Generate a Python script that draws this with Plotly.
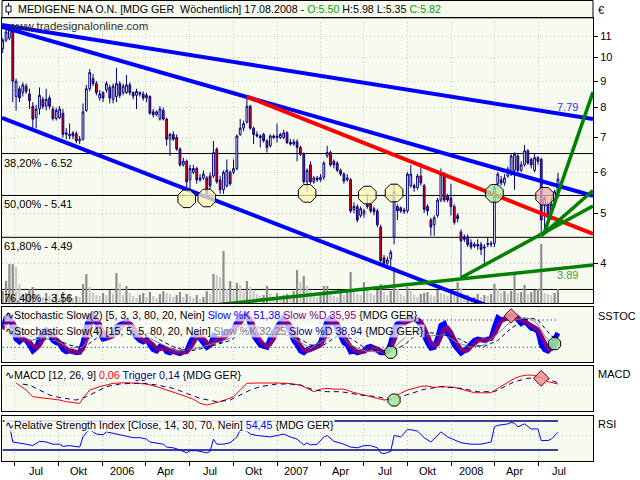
import math
from datetime import date, timedelta
import plotly.graph_objects as go

W, H = 640, 480
FONT = "Liberation Sans"
PANEL_BG = "#f7faef"
GRID = "#c4c4c4"
NAVY = "#000080"

# ---------------- weekly price data (MEDIGENE, MDG GER) ----------------
first_week = date(2005, 6, 6)
bar_count = 167
bar_dates = [(first_week + timedelta(days=7 * i)).isoformat() for i in range(bar_count)]

opens = [10.4, 10.8, 10.9, 11.4, 8.4, 8.7, 8.55, 8.8, 8.5, 8.05,
         7.65, 7.95, 8.3, 8.05, 8.35, 7.95, 7.62, 7.65, 7.8, 7.1,
         7.05, 7.15, 7.12, 6.9, 6.95, 7.9, 8.7, 9.1, 8.9, 8.35,
         8.55, 8.65, 8.75, 8.3, 8.4, 8.9, 8.55, 8.55, 8.85, 8.55,
         8.45, 8.55, 8.5, 8.35, 8.4, 7.85, 7.75, 7.6, 7.9, 7.6,
         6.95, 7.1, 7.0, 6.65, 6.2, 6.3, 5.8, 6.0, 6.1, 5.8,
         5.85, 5.85, 5.9, 5.9, 6.65, 5.8, 5.55, 5.65, 6.0, 6.0,
         6.1, 7.1, 7.3, 7.5, 8.05, 7.3, 7.1, 7.0, 7.1, 6.9,
         6.75, 7.0, 7.05, 7.0, 7.0, 7.15, 6.85, 6.8, 6.87, 6.7,
         6.5, 5.75, 6.2, 5.75, 5.85, 5.8, 5.87, 6.45, 6.55, 6.3,
         6.25, 6.05, 5.95, 5.8, 5.8, 5.08, 5.15, 4.95, 4.98, 5.2,
         5.2, 5.1, 5.05, 4.7, 4.1, 4.0, 4.08, 4.5, 5.15, 5.12,
         5.03, 5.05, 5.65, 5.65, 5.6, 5.9, 5.65, 5.15, 4.85, 4.75,
         4.95, 5.3, 5.9, 5.4, 5.35, 5.15, 4.95, 4.6, 4.5, 4.5,
         4.38, 4.32, 4.35, 4.35, 4.28, 4.35, 4.35, 4.37, 5.7, 5.8,
         5.72, 5.9, 5.95, 6.05, 6.45, 6.05, 6.2, 6.6, 6.35, 6.05,
         6.4, 6.35, 5.2, 5.2, 5.0, 5.2, 5.50]
highs = [10.9, 11.5, 11.6, 11.6, 9.1, 8.8, 8.95, 8.9, 8.7, 8.2,
         8.1, 8.75, 8.4, 8.7, 8.45, 8.05, 8.0, 8.05, 7.95, 7.3,
         7.45, 7.2, 7.2, 7.05, 8.15, 8.85, 9.5, 9.3, 9.0, 8.65,
         8.6, 9.0, 8.85, 8.9, 9.55, 9.0, 8.9, 9.25, 8.95, 8.6,
         8.7, 8.6, 8.6, 8.55, 8.45, 7.95, 7.9, 8.05, 8.0, 7.65,
         7.15, 7.2, 7.1, 6.7, 6.4, 6.35, 6.2, 6.2, 6.15, 5.95,
         6.05, 5.9, 6.0, 6.9, 6.7, 5.9, 6.05, 6.35, 6.05, 6.35,
         7.1, 7.6, 7.55, 8.4, 8.1, 7.35, 7.2, 7.1, 7.15, 6.95,
         7.1, 7.1, 7.45, 7.15, 7.25, 7.2, 6.95, 6.95, 6.95, 6.75,
         6.55, 6.1, 6.3, 5.9, 5.9, 5.95, 6.3, 6.75, 6.6, 6.35,
         6.3, 6.1, 6.0, 5.95, 5.85, 5.25, 5.2, 5.15, 5.1, 5.45,
         5.25, 5.15, 5.1, 4.75, 4.15, 4.12, 4.25, 5.7, 5.2, 5.15,
         5.12, 6.0, 6.2, 5.7, 5.95, 6.25, 5.7, 5.2, 4.9, 4.95,
         5.35, 6.1, 6.0, 5.45, 5.7, 5.2, 5.0, 4.65, 4.55, 4.55,
         4.45, 4.4, 4.45, 4.4, 4.35, 4.5, 4.42, 5.65, 6.0, 5.9,
         5.95, 6.15, 6.5, 6.55, 6.5, 6.3, 6.77, 6.65, 6.4, 6.5,
         6.45, 6.4, 5.4, 5.25, 5.35, 5.55, 5.98]
lows = [10.2, 10.7, 10.8, 8.2, 7.9, 8.2, 8.4, 8.5, 7.95, 7.25,
        7.3, 7.75, 7.95, 7.9, 7.95, 7.55, 7.55, 7.6, 7.0, 6.95,
        6.95, 6.95, 6.82, 6.8, 6.9, 7.85, 8.6, 8.8, 8.45, 8.25,
        8.2, 8.55, 8.15, 8.15, 8.2, 8.35, 8.45, 8.5, 8.45, 8.3,
        7.95, 8.4, 8.25, 8.2, 7.75, 7.65, 7.7, 7.55, 7.55, 6.75,
        6.45, 6.9, 6.6, 6.15, 6.15, 5.6, 5.55, 5.95, 5.7, 5.75,
        5.8, 5.35, 5.55, 5.85, 5.7, 5.45, 5.45, 5.6, 5.65, 5.95,
        6.05, 7.05, 7.2, 7.45, 7.25, 6.8, 7.0, 6.7, 6.85, 6.55,
        6.7, 6.95, 6.85, 6.95, 6.95, 6.8, 6.75, 6.75, 6.3, 6.45,
        5.7, 5.5, 5.7, 5.7, 5.75, 5.75, 5.8, 6.4, 6.15, 6.1,
        6.0, 5.9, 5.7, 5.75, 5.0, 5.0, 4.8, 4.9, 4.9, 5.1,
        5.0, 4.95, 4.7, 4.0, 3.95, 3.95, 3.92, 4.35, 4.85, 5.0,
        4.98, 5.0, 5.6, 5.5, 5.55, 5.65, 5.0, 4.95, 4.52, 4.52,
        4.9, 5.25, 5.25, 5.25, 4.95, 4.75, 4.8, 3.75, 4.4, 4.3,
        4.25, 4.28, 4.25, 4.15, 3.97, 4.3, 4.3, 4.3, 5.6, 5.65,
        5.65, 5.85, 5.9, 5.55, 6.0, 6.0, 6.15, 6.2, 6.1, 6.0,
        6.2, 4.52, 4.6, 4.95, 4.85, 5.15, 5.35]
closes = [10.8, 11.2, 11.4, 9.0, 9.0, 8.35, 8.85, 8.6, 8.25, 7.6,
          7.95, 8.45, 8.05, 8.3, 8.05, 7.62, 7.9, 7.95, 7.1, 7.15,
          7.1, 7.05, 6.9, 6.95, 7.85, 8.7, 9.35, 8.9, 8.55, 8.5,
          8.35, 8.9, 8.35, 8.8, 8.9, 8.45, 8.8, 8.85, 8.55, 8.42,
          8.6, 8.5, 8.35, 8.45, 7.8, 7.75, 7.85, 7.95, 7.6, 6.95,
          7.1, 6.95, 6.65, 6.2, 6.3, 5.75, 6.1, 6.1, 5.8, 5.85,
          5.95, 5.45, 5.65, 6.55, 5.75, 5.55, 6.0, 6.05, 5.7, 6.1,
          7.05, 7.3, 7.45, 8.05, 7.3, 7.1, 7.05, 7.05, 6.9, 6.7,
          7.05, 7.05, 7.0, 7.1, 7.15, 6.85, 6.8, 6.87, 6.7, 6.5,
          5.75, 6.05, 5.75, 5.85, 5.8, 5.87, 6.25, 6.55, 6.2, 6.2,
          6.05, 5.95, 5.77, 5.85, 5.05, 5.15, 4.85, 5.1, 5.05, 5.15,
          5.05, 5.03, 4.75, 4.05, 4.0, 4.06, 4.2, 5.5, 5.05, 5.05,
          5.07, 5.95, 5.95, 5.6, 5.9, 5.72, 5.08, 5.05, 4.7, 4.9,
          5.3, 5.95, 5.3, 5.3, 5.15, 4.8, 4.88, 4.42, 4.45, 4.35,
          4.3, 4.35, 4.32, 4.25, 4.3, 4.37, 4.37, 5.6, 5.95, 5.72,
          5.85, 6.08, 6.45, 6.5, 6.05, 6.2, 6.6, 6.25, 6.2, 6.4,
          6.3, 4.85, 5.35, 5.0, 5.2, 5.5, 5.82]
volume = [12, 22, 39, 39, 36, 19, 8, 10, 14, 16,
          9, 8, 6, 10, 7, 6, 9, 5, 11, 6,
          8, 5, 7, 6, 19, 29, 16, 10, 8, 7,
          10, 8, 13, 9, 30, 20, 8, 17, 10, 7,
          5, 8, 10, 6, 11, 7, 5, 9, 12, 10,
          9, 6, 8, 11, 6, 9, 7, 5, 8, 4,
          6, 12, 9, 29, 28, 26, 52, 14, 22, 12,
          20, 18, 12, 22, 16, 13, 9, 7, 8, 17,
          9, 6, 10, 7, 8, 9, 6, 12, 33, 21,
          27, 17, 12, 8, 6, 10, 17, 17, 9, 7,
          6, 10, 8, 14, 31, 12, 9, 8, 21, 14,
          10, 8, 13, 19, 11, 8, 12, 36, 14, 9,
          7, 16, 12, 8, 6, 9, 10, 11, 8, 7,
          13, 10, 9, 7, 9, 8, 21, 15, 7, 8,
          5, 6, 9, 6, 8, 7, 9, 19, 14, 10,
          12, 9, 12, 28, 10, 11, 18, 9, 11, 13,
          14, 59, 10, 9, 8, 10, 14]

# Fibonacci retracement levels
fib_levels = [11.93, 6.52, 5.41, 4.49, 3.56]
fib_labels = ["0,00% - 11.93", "38,20% - 6.52", "50,00% - 5.41", "61,80% - 4.49", "76,40% - 3.56"]

# trend lines (start date, start price, end date, end price, colour, width)
trend_x0 = ["2005-06-04 12:00", "2005-06-04 12:00", "2005-06-04 12:00", "2006-10-30",
            "2006-07-25", "2008-01-21", "2008-07-07", "2008-07-14"]
trend_y0 = [11.55, 11.45, 7.64, 8.40, 3.30, 3.75, 4.52, 4.60]
trend_x1 = ["2008-10-23 07:00"] * 8
trend_y1 = [7.60, 5.40, 2.76, 4.56, 3.97, 5.16, 5.53, 8.57]
trend_colors = ["#0000ff", "#0000ff", "#0000ff", "#ff0000", "#008000", "#008000", "#008000", "#008000"]
trend_widths = [4, 4, 4, 4, 3.5, 3.5, 3.5, 3.5]

# signal circles on the price chart
circle_bars = [55, 61, 91, 109, 117, 147, 162]
circle_prices = [5.33, 5.35, 5.46, 5.42, 5.47, 5.46, 5.39]
circle_fills = ["rgba(250,246,180,0.75)"] * 5 + ["rgba(170,235,165,0.75)", "rgba(240,175,175,0.75)"]

# Stochastic Slow(2) [5,3,3] – %K and %D per week
stoch_k = [60, 85, 92, 55, 38, 32, 40, 35, 25, 12,
           18, 40, 52, 58, 50, 35, 30, 28, 15, 10,
           12, 10, 8, 9, 30, 65, 88, 90, 75, 50,
           38, 40, 45, 48, 65, 70, 72, 78, 70, 50,
           42, 35, 32, 38, 25, 15, 12, 22, 20, 10,
           8, 12, 8, 6, 10, 12, 30, 45, 48, 40,
           32, 20, 25, 45, 40, 35, 45, 55, 55, 60,
           75, 85, 90, 92, 70, 45, 35, 25, 22, 20,
           40, 55, 65, 75, 85, 70, 50, 35, 25, 12,
           8, 15, 18, 20, 22, 30, 55, 80, 85, 75,
           60, 45, 30, 25, 10, 12, 8, 10, 12, 20,
           22, 18, 12, 8, 8, 10, 30, 62, 72, 75,
           72, 80, 85, 82, 78, 70, 45, 30, 18, 20,
           40, 68, 72, 50, 40, 25, 15, 7, 12, 20,
           30, 35, 38, 36, 35, 38, 40, 65, 85, 80,
           82, 88, 90, 88, 80, 72, 78, 70, 62, 60,
           55, 25, 15, 12, 20, 38, 51.38]
stoch_d = [60, 72, 79, 77, 62, 42, 37, 36, 33, 24,
           18, 23, 37, 50, 53, 48, 38, 31, 24, 18,
           12, 11, 10, 9, 16, 35, 61, 81, 84, 72,
           54, 43, 41, 44, 53, 61, 69, 73, 73, 66,
           54, 42, 36, 35, 32, 26, 17, 16, 18, 17,
           13, 10, 9, 9, 8, 9, 17, 29, 41, 44,
           40, 31, 26, 30, 37, 40, 40, 45, 52, 57,
           63, 73, 83, 89, 84, 69, 50, 35, 27, 22,
           27, 38, 53, 65, 75, 77, 68, 52, 37, 24,
           15, 12, 14, 18, 20, 24, 36, 55, 73, 80,
           73, 60, 45, 33, 22, 16, 10, 10, 10, 14,
           18, 20, 17, 13, 9, 9, 16, 34, 55, 70,
           73, 76, 79, 82, 82, 77, 64, 48, 31, 23,
           26, 43, 60, 63, 54, 38, 27, 16, 11, 13,
           21, 28, 34, 36, 36, 36, 38, 48, 63, 77,
           82, 83, 87, 89, 86, 80, 77, 73, 70, 64,
           59, 47, 32, 17, 16, 23, 35.95]

# Stochastic Slow(4) [15,5,5]
s4_bars = [0, 4, 8, 12, 16, 20, 24, 28, 32, 36, 40, 44, 48, 52, 56, 60, 64, 68, 72, 76,
           80, 84, 88, 92, 96, 100, 104, 108, 112, 116, 120, 124, 128, 132, 136, 140, 144, 148, 152, 156,
           158, 160, 162, 164, 166]
s4_k = [70, 55, 35, 40, 35, 18, 20, 60, 55, 65, 58, 40, 25, 12, 14, 22, 30, 40, 70, 62,
        45, 50, 35, 18, 35, 55, 25, 12, 10, 12, 40, 60, 45, 48, 30, 20, 25, 50, 78, 85,
        82, 70, 45, 30, 32.25]
s4_d = [65, 62, 45, 38, 37, 25, 18, 40, 55, 60, 60, 50, 32, 18, 12, 18, 26, 35, 55, 66,
        55, 48, 42, 25, 25, 45, 40, 20, 12, 10, 25, 50, 52, 47, 40, 25, 22, 35, 62, 80,
        84, 80, 62, 45, 38.94]
stoch_levels = [80, 20]
stoch_buy_bars, stoch_buy_vals = [116, 165], [9, 28]
stoch_sell_bars, stoch_sell_vals = [152], [89]

# MACD [12, 26, 9]
macd_bars = [4, 7, 9, 11, 14, 17, 19, 21, 23, 24, 26, 29, 33, 37, 40, 43, 46, 49, 51, 53,
             55, 57, 59, 61, 63, 65, 67, 69, 71, 73, 76, 79, 82, 85, 89, 91, 93, 95, 97, 99,
             102, 105, 107, 109, 112, 114, 116, 117, 119, 121, 123, 125, 127, 129, 131, 133, 135, 137, 139, 141,
             144, 146, 148, 150, 151, 153, 155, 157, 159, 161, 163, 165, 166]
macd_vals = [0.12, -0.3, -0.7, -0.75, -0.8, -0.9, -1.0, -1.05, -1.1, -0.8, -0.3, -0.1, 0.1, 0.14, 0.12, 0.06, -0.1, -0.3, -0.4, -0.55,
             -0.7, -0.85, -1.1, -1.2, -1.1, -1.0, -0.85, -0.7, -0.3, 0.1, 0.12, 0.14, 0.12, 0.1, 0.0, -0.2, -0.4, -0.25, -0.2, -0.25,
             -0.25, -0.45, -0.55, -0.65, -0.8, -0.9, -0.85, -0.7, -0.5, -0.3, -0.2, -0.08, -0.06, -0.15, -0.1, -0.12, -0.14, -0.25, -0.35, -0.46,
             -0.47, -0.46, -0.2, 0.05, 0.2, 0.4, 0.54, 0.6, 0.58, 0.46, 0.2, 0.1, 0.06]
trig_bars = [6, 8, 11, 14, 17, 20, 22, 25, 28, 31, 35, 41, 46, 51, 55, 59, 64, 68, 71, 74,
             77, 82, 86, 89, 93, 97, 101, 107, 112, 116, 119, 122, 126, 131, 137, 142, 147, 150, 153, 157,
             161, 164, 166]
trig_vals = [0.05, 0.0, -0.3, -0.6, -0.75, -0.85, -0.9, -0.7, -0.4, -0.1, 0.06, 0.12, 0.0, -0.2, -0.5, -0.8, -1.0, -0.9, -0.6, -0.3,
             -0.1, 0.06, 0.06, 0.0, -0.3, -0.4, -0.4, -0.6, -0.7, -0.9, -0.7, -0.5, -0.26, -0.1, -0.2, -0.4, -0.4, -0.1, 0.2, 0.4,
             0.46, 0.26, 0.14]
macd_buy_bars, macd_buy_vals = [117], [-0.9]
macd_sell_bars, macd_sell_vals = [161], [0.4]

# RSI [Close, 14, 30, 70]
rsi_bars = [1, 2, 3, 5, 7, 9, 11, 13, 15, 17, 18, 20, 22, 23, 24, 25, 26, 28, 30, 31,
            33, 35, 37, 39, 41, 43, 44, 46, 48, 49, 51, 53, 55, 56, 58, 61, 62, 63, 64, 66,
            68, 70, 71, 73, 74, 76, 78, 80, 82, 84, 86, 88, 90, 91, 92, 94, 96, 97, 99, 101,
            102, 104, 106, 108, 110, 112, 113, 114, 116, 117, 119, 121, 122, 124, 126, 128, 130, 131, 133, 135,
            137, 140, 143, 145, 146, 147, 148, 151, 152, 153, 154, 156, 157, 158, 160, 161, 163, 164, 166]
rsi_vals = [62, 65, 41, 40, 38, 36, 42, 41, 38, 38, 35, 36, 34, 34, 48, 54, 58, 52, 51, 55,
            53, 51, 48, 47, 47, 45, 41, 40, 38, 34, 33, 30, 26, 29, 29, 26, 28, 45, 38, 38,
            40, 48, 58, 56, 52, 50, 49, 48, 50, 52, 48, 45, 37, 40, 37, 38, 48, 50, 42, 40,
            38, 34, 33, 36, 36, 33, 26, 25, 28, 50, 48, 58, 58, 56, 47, 41, 50, 55, 48, 44,
            40, 38, 38, 40, 41, 62, 64, 66, 68, 67, 62, 66, 62, 59, 59, 43, 43, 45, 54.45]
rsi_levels = [70, 30]

# time axis
quarter_ticks = ["2005-07-01", "2005-10-01", "2006-01-01", "2006-04-01", "2006-07-01", "2006-10-01",
                 "2007-01-01", "2007-04-01", "2007-07-01", "2007-10-01", "2008-01-01", "2008-04-01", "2008-07-01"]
label_dates = ["2005-08-14", "2005-11-12", "2006-02-10", "2006-05-13", "2006-08-14", "2006-11-12",
               "2007-02-10", "2007-05-13", "2007-08-14", "2007-11-12", "2008-02-10", "2008-05-13", "2008-08-14"]
label_text = ["Jul", "Okt", "2006", "Apr", "Jul", "Okt", "2007", "Apr", "Jul", "Okt", "2008", "Apr", "Jul"]
price_ticks = [4, 5, 6, 7, 8, 9, 10, 11]

X_RANGE = ["2005-06-04 12:00", "2008-10-23 07:00"]
PRICE_RANGE = [3.352, 11.92]


def px(v):
    return v / W


def py(v):
    return 1 - v / H


X_DOM = [px(2), px(593)]
MAIN_DOM = [py(303), py(18)]
STO_DOM = [py(362), py(307)]
MACD_DOM = [py(411), py(366)]
RSI_DOM = [py(461), py(416)]


def at(bars):
    return [bar_dates[i] for i in bars]


fig = go.Figure()

# volume (base axis of the price panel, so it sits underneath)
vol_colors = ["#8c8c8c" if i == 0 or volume[i] >= volume[i - 1] else "#c8c8c8" for i in range(bar_count)]
fig.add_trace(go.Bar(x=bar_dates, y=volume, xaxis="x", yaxis="y",
                     marker=dict(color=vol_colors, line=dict(width=0)),
                     width=4.5 * 86400000, hoverinfo="skip"))

fig.add_trace(go.Candlestick(
    x=bar_dates, open=opens, high=highs, low=lows, close=closes,
    xaxis="x", yaxis="y6", whiskerwidth=0,
    increasing=dict(line=dict(color=NAVY, width=1), fillcolor="#ffffff"),
    decreasing=dict(line=dict(color=NAVY, width=1), fillcolor="#ff0000"),
    hoverinfo="skip"))

for x0, y0, x1, y1, c, w in zip(trend_x0, trend_y0, trend_x1, trend_y1, trend_colors, trend_widths):
    fig.add_trace(go.Scatter(x=[x0, x1], y=[y0, y1], mode="lines", xaxis="x", yaxis="y6",
                             line=dict(color=c, width=w), hoverinfo="skip"))

fig.add_trace(go.Scatter(x=at(circle_bars), y=circle_prices, mode="markers", xaxis="x", yaxis="y6",
                         marker=dict(symbol="octagon", size=19, color=circle_fills,
                                     line=dict(color="#000000", width=1)), hoverinfo="skip"))

# stochastic panel
fig.add_trace(go.Scatter(x=bar_dates, y=stoch_k, mode="lines", xaxis="x2", yaxis="y2",
                         line=dict(color="#0000ff", width=5), hoverinfo="skip"))
fig.add_trace(go.Scatter(x=bar_dates, y=stoch_d, mode="lines", xaxis="x2", yaxis="y2",
                         line=dict(color="#800080", width=4), hoverinfo="skip"))
for lv in stoch_levels:
    fig.add_trace(go.Scatter(x=[bar_dates[0], bar_dates[-1]], y=[lv, lv], mode="lines", xaxis="x2", yaxis="y2",
                             line=dict(color=NAVY, width=1, dash="1px,3px"), hoverinfo="skip"))
fig.add_trace(go.Scatter(x=at(s4_bars), y=s4_k, mode="lines", xaxis="x2", yaxis="y2",
                         line=dict(color="#808080", width=1), hoverinfo="skip"))
fig.add_trace(go.Scatter(x=at(s4_bars), y=s4_d, mode="lines", xaxis="x2", yaxis="y2",
                         line=dict(color=NAVY, width=1, dash="4px,3px"), hoverinfo="skip"))
fig.add_trace(go.Scatter(x=at(stoch_buy_bars), y=stoch_buy_vals, mode="markers", xaxis="x2", yaxis="y2",
                         marker=dict(symbol="octagon", size=13, color="rgba(160,235,160,0.85)",
                                     line=dict(color="#000000", width=1)), hoverinfo="skip"))
fig.add_trace(go.Scatter(x=at(stoch_sell_bars), y=stoch_sell_vals, mode="markers", xaxis="x2", yaxis="y2",
                         marker=dict(symbol="diamond", size=11, color="rgba(240,150,150,0.9)",
                                     line=dict(color="#600000", width=1)), hoverinfo="skip"))

# MACD panel
fig.add_trace(go.Scatter(x=at(macd_bars), y=macd_vals, mode="lines", xaxis="x3", yaxis="y3",
                         line=dict(color="#ff0000", width=1), hoverinfo="skip"))
fig.add_trace(go.Scatter(x=at(trig_bars), y=trig_vals, mode="lines", xaxis="x3", yaxis="y3",
                         line=dict(color=NAVY, width=1, dash="5px,4px"), hoverinfo="skip"))
fig.add_trace(go.Scatter(x=at(macd_buy_bars), y=macd_buy_vals, mode="markers", xaxis="x3", yaxis="y3",
                         marker=dict(symbol="octagon", size=13, color="rgba(160,235,160,0.85)",
                                     line=dict(color="#000000", width=1)), hoverinfo="skip"))
fig.add_trace(go.Scatter(x=at(macd_sell_bars), y=macd_sell_vals, mode="markers", xaxis="x3", yaxis="y3",
                         marker=dict(symbol="diamond", size=12, color="rgba(240,150,150,0.9)",
                                     line=dict(color="#600000", width=1)), hoverinfo="skip"))

# RSI panel
for lv in rsi_levels:
    fig.add_trace(go.Scatter(x=[bar_dates[0], bar_dates[-1]], y=[lv, lv], mode="lines", xaxis="x4", yaxis="y4",
                             line=dict(color=NAVY, width=1.5), hoverinfo="skip"))
fig.add_trace(go.Scatter(x=at(rsi_bars), y=rsi_vals, mode="lines", xaxis="x4", yaxis="y4",
                         line=dict(color="#0000ff", width=1), hoverinfo="skip"))

box = dict(showline=True, mirror=True, linecolor="#000000", linewidth=1, zeroline=False, fixedrange=True)
grid_x = dict(type="date", range=X_RANGE, domain=X_DOM, tickvals=quarter_ticks, showticklabels=False, ticks="",
              showgrid=True, gridcolor=GRID, griddash="1px,3px", gridwidth=1)

shapes = []
for lv in fib_levels:
    shapes.append(dict(type="line", xref="x domain", x0=0, x1=1, yref="y6", y0=lv, y1=lv,
                       line=dict(color="#000000", width=1), layer="below"))
# title box and candle icon
shapes.append(dict(type="rect", xref="paper", yref="paper", x0=px(2), x1=px(593), y0=py(17.5), y1=py(0.5),
                   fillcolor=PANEL_BG, line=dict(color="#000000", width=1)))
shapes.append(dict(type="line", xref="paper", yref="paper", x0=px(8.5), x1=px(8.5), y0=py(15), y1=py(3),
                   line=dict(color="#000040", width=1)))
shapes.append(dict(type="rect", xref="paper", yref="paper", x0=px(6), x1=px(11), y0=py(12), y1=py(6),
                   fillcolor="#ffffff", line=dict(color="#000040", width=1)))

ann = []
GREEN_T = "#00a000"
ann.append(dict(xref="paper", yref="paper", x=px(16), y=py(9), xanchor="left", yanchor="middle", showarrow=False,
                font=dict(size=10.7, color="#000000"),
                text="MEDIGENE NA O.N. [MDG GER\u00a0 Wöchentlich] 17.08.2008 - "
                     f"<span style='color:{GREEN_T}'>O:5.50</span> H:5.98 L:5.35 "
                     f"<span style='color:{GREEN_T}'>C:5.82</span>"))
ann.append(dict(xref="paper", yref="paper", x=px(596), y=py(10), xanchor="left", yanchor="middle",
                showarrow=False, text="€", font=dict(size=11)))
for lv, lab in zip(fib_levels, fib_labels):
    ann.append(dict(xref="paper", yref="y6", x=px(2), y=math.log10(lv), xanchor="left", yanchor="top",
                    yshift=-1, showarrow=False, text=lab, font=dict(size=11, color="#000000")))
ann.append(dict(xref="paper", yref="paper", x=px(6), y=py(26), xanchor="left", yanchor="middle",
                showarrow=False, text="www.tradesignalonline.com", font=dict(size=11.5, color="#303030")))
ann.append(dict(xref="paper", yref="paper", x=px(567), y=py(107), xanchor="center", yanchor="middle",
                showarrow=False, text="7.79", font=dict(size=11, color="#3333ff")))
ann.append(dict(xref="paper", yref="paper", x=px(567), y=py(275), xanchor="center", yanchor="middle",
                showarrow=False, text="3.89", font=dict(size=11, color="#3a9a3a")))

WB = "rgba(255,255,255,0.7)"
ann.append(dict(xref="paper", yref="paper", x=px(4), y=py(315), xanchor="left", yanchor="middle", showarrow=False,
                bgcolor=WB, borderpad=0, font=dict(size=10.7, color="#000000"),
                text="∿Stochastic Slow(2) [5, 3, 3, 80, 20, Nein] <span style='color:#0000ff'>Slow %K 51,38</span> "
                     "<span style='color:#800080'>Slow %D 35,95</span> {MDG GER}"))
ann.append(dict(xref="paper", yref="paper", x=px(4), y=py(331), xanchor="left", yanchor="middle", showarrow=False,
                bgcolor=WB, borderpad=0, font=dict(size=10.7, color="#000000"),
                text="∿Stochastic Slow(4) [15, 5, 5, 80, 20, Nein] <span style='color:#808080'>Slow %K 32,25</span> "
                     "<span style='color:#000080'>Slow %D 38,94</span> {MDG GER}"))
ann.append(dict(xref="paper", yref="paper", x=px(4), y=py(375), xanchor="left", yanchor="middle", showarrow=False,
                bgcolor="rgba(255,255,255,0.8)", borderpad=0, font=dict(size=10.7, color="#000000"),
                text="∿MACD [12, 26, 9] <span style='color:#ff0000'>0,06</span> "
                     "<span style='color:#000080'>Trigger 0,14</span> {MDG GER}"))
ann.append(dict(xref="paper", yref="paper", x=px(4), y=py(425), xanchor="left", yanchor="middle", showarrow=False,
                bgcolor="rgba(255,255,255,0.85)", borderpad=0, font=dict(size=10.7, color="#000000"),
                text="∿Relative Strength Index [Close, 14, 30, 70, Nein] "
                     "<span style='color:#0000ff'>54,45</span> {MDG GER}"))
for lab, yy in [("SSTOC", 316), ("MACD", 374), ("RSI", 424)]:
    ann.append(dict(xref="paper", yref="paper", x=px(596), y=py(yy), xanchor="left", yanchor="middle",
                    showarrow=False, text=lab, font=dict(size=11, color="#000000")))
# time-axis labels, centred within each quarter
for d, lab in zip(label_dates, label_text):
    ann.append(dict(xref="x4", yref="paper", x=d, y=py(471), xanchor="center", yanchor="middle",
                    showarrow=False, text=lab, font=dict(size=11, color="#000000")))

fig.update_layout(
    width=W, height=H, autosize=False, margin=dict(l=0, r=0, t=0, b=0),
    paper_bgcolor="#ffffff", plot_bgcolor=PANEL_BG, showlegend=False, hovermode=False,
    font=dict(family=FONT, size=11, color="#000000"),
    boxgap=0.25,
    xaxis=dict(anchor="y", rangeslider=dict(visible=False), **grid_x, **box),
    yaxis=dict(domain=MAIN_DOM, anchor="x", range=[0, 285], visible=False, fixedrange=True),
    yaxis6=dict(overlaying="y", anchor="x", side="right", type="log",
                range=[math.log10(PRICE_RANGE[0]), math.log10(PRICE_RANGE[1])],
                tickvals=price_ticks, ticktext=[str(t) for t in price_ticks],
                ticks="outside", ticklen=4, tickcolor="#000000", tickfont=dict(size=11),
                showgrid=True, gridcolor=GRID, griddash="1px,3px", **box),
    xaxis2=dict(anchor="y2", **grid_x, **box),
    yaxis2=dict(domain=STO_DOM, anchor="x2", range=[-12.3, 108.6], showticklabels=False, ticks="",
                showgrid=False, **box),
    xaxis3=dict(anchor="y3", **grid_x, **box),
    yaxis3=dict(domain=MACD_DOM, anchor="x3", range=[-1.557, 1.138], tickvals=[0], showticklabels=False,
                ticks="", showgrid=True, gridcolor=GRID, griddash="1px,3px", **box),
    xaxis4=dict(anchor="y4", type="date", range=X_RANGE, domain=X_DOM, tickvals=quarter_ticks,
                showticklabels=False, ticks="outside", ticklen=4, tickcolor="#000000",
                showgrid=True, gridcolor=GRID, griddash="1px,3px", **box),
    yaxis4=dict(domain=RSI_DOM, anchor="x4", range=[14.8, 76.9], tickvals=[50], showticklabels=False,
                ticks="", showgrid=True, gridcolor=GRID, griddash="1px,3px", **box),
    shapes=shapes,
    annotations=ann,
)

fig.write_html("out.html", config={"displayModeBar": False, "staticPlot": True},
               post_script="document.body.style.margin='0px';document.body.style.overflow='hidden';")
